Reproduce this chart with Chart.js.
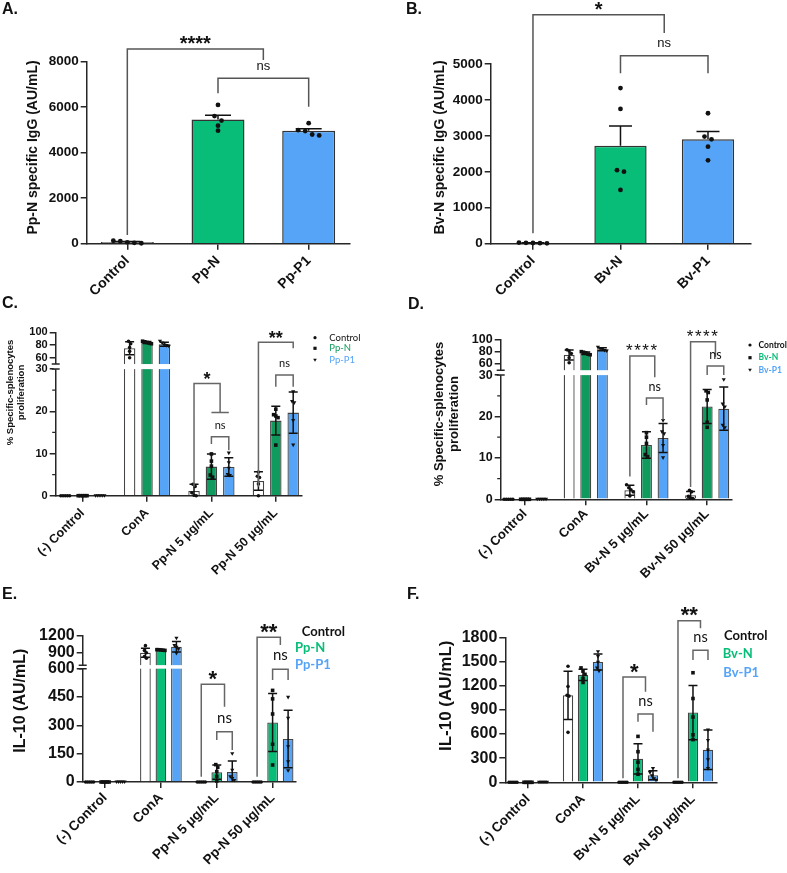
<!DOCTYPE html>
<html>
<head>
<meta charset="utf-8">
<title>IgG, splenocyte proliferation and IL-10</title>
<script src="https://cdn.jsdelivr.net/npm/chart.js@4.4.1/dist/chart.umd.min.js"></script>
<style>
  html, body { margin: 0; padding: 0; background: #fff; }
  body { position: relative; width: 787px; height: 873px; overflow: hidden; }
  canvas { position: absolute; }
</style>
</head>
<body>
<canvas id="panelA"></canvas>
<canvas id="panelB"></canvas>
<canvas id="panelC"></canvas>
<canvas id="panelD"></canvas>
<canvas id="panelE"></canvas>
<canvas id="panelF"></canvas>
<script>
const SANS = '"Liberation Sans", Arial, sans-serif';
const CALIBRI = 'Lato, "Liberation Sans", sans-serif';
const INK = "#111";
const AXIS = "#262626";
const GREEN = "#08bd78";
const GREEN_DARK = "#119a5e";
const BLUE = "#55a4f7";

// ================== DATA ==================
// A. Pp-N specific IgG (mean, SEM, individual mice)
const igPpCats = ["Control", "Pp-N", "Pp-P1"];
const igPpMean = [72, 5456, 4960];
const igPpSem = [20, 193, 95];
const igPpPoints = [
  [130, 110, 60, 40, 20],
  [6100, 5610, 5410, 5190, 4970],
  [5300, 4990, 4950, 4800, 4760],
];
const igPpTicks = [0, 2000, 4000, 6000, 8000];
const igPpSig = [
  { l: [0, 0], r: [1.5, 0], y: 8558, yl: 380, yr: 8075, text: "****" },
  { l: [1, 0], r: [2, 0], y: 7270, yl: 6611, yr: 6022, text: "ns" },
];

// B. Bv-N specific IgG
const igBvCats = ["Control", "Bv-N", "Bv-P1"];
const igBvMean = [20, 2725, 2907];
const igBvSem = [5, 553, 214];
const igBvPoints = [
  [30, 25, 20, 15, 10],
  [4330, 3750, 2045, 2005, 1495],
  [3630, 2980, 2905, 2700, 2320],
];
const igBvTicks = [0, 1000, 2000, 3000, 4000, 5000];
const igBvSig = [
  { l: [0, 0], r: [1.5, 0], y: 6370, yl: 290, yr: 5860, text: "*" },
  { l: [1, 0], r: [2, 0], y: 5228, yl: 4746, yr: 4746, text: "ns" },
];

// C. Splenocyte proliferation, Pp-N stimulation (mean, SD, points)
const prolifPpCats = ["(-) Control", "ConA", "Pp-N 5 μg/mL", "Pp-N 50 μg/mL"];
const prolifPpCtrlMean = [0, 74.8, 1.1, 3.5];
const prolifPpCtrlSd = [0, 10.2, 1.6, 2.2];
const prolifPpCtrlPts = [[0, 0, 0, 0, 0], [86, 82, 76, 70, 60], [2.7, 2.2, 0.7, 0.1, 0], [5.6, 4.6, 4.3, 2.8, 0]];
const prolifPpNMean = [0, 84, 6.9, 17.8];
const prolifPpNSd = [0, 1.6, 3.0, 3.4];
const prolifPpNPts = [[0, 0, 0, 0, 0], [86, 85, 84, 83, 82], [9.9, 8.2, 7.0, 4.9, 4.4], [20.5, 19.2, 18.9, 18.5, 12.0]];
const prolifPpP1Mean = [0, 81.2, 6.8, 19.7];
const prolifPpP1Sd = [0, 3.3, 2.2, 4.9];
const prolifPpP1Pts = [[0, 0, 0, 0, 0], [86, 83, 80, 79, 78], [10.1, 7.8, 6.5, 5.0, 4.8], [24.6, 22.3, 22.0, 17.8, 12.0]];
const prolifPpTicks = [0, 10, 20, 30, 60, 80, 100];
const prolifPpMinor = [5, 15, 25];
const prolifPpSig = [
  { l: [2, 0], r: [2, 1.5], y: 26.6, yl: 2.1, yr: 19.7, text: "*", tee: true },
  { l: [2, 1], r: [2, 2], y: 14.0, yl: 12.25, yr: 10.8, text: "ns" },
  { l: [3, 0], r: [3, 2], y: 84.2, yl: 2.1, yr: 74.8, text: "**" },
  { l: [3, 1], r: [3, 2], y: 28.6, yl: 25.8, yr: 25.8, text: "ns" },
];

// D. Splenocyte proliferation, Bv-N stimulation
const prolifBvCats = ["(-) Control", "ConA", "Bv-N 5 μg/mL", "Bv-N 50 μg/mL"];
const prolifBvCtrlMean = [0, 74.6, 2.2, 1.0];
const prolifBvCtrlSd = [0, 8.0, 1.2, 0.9];
const prolifBvCtrlPts = [[0, 0, 0, 0, 0], [83, 81, 77, 70, 62], [3.5, 2.8, 2.3, 1.8, 0.8], [2.2, 1.8, 0.7, 0.3, 0.2]];
const prolifBvNMean = [0, 77.4, 13.1, 22.4];
const prolifBvNSd = [0, 2.0, 3.2, 4.1];
const prolifBvNPts = [[0, 0, 0, 0, 0], [80, 79, 78, 76, 75], [16.1, 15.0, 13.5, 10.8, 10.3], [26.2, 25.8, 24.0, 18.6, 17.4]];
const prolifBvP1Mean = [0, 83.8, 14.8, 21.9];
const prolifBvP1Sd = [0, 2.4, 3.5, 5.2];
const prolifBvP1Pts = [[0, 0, 0, 0, 0], [87, 85, 84, 82, 81], [19.0, 16.3, 15.8, 13.0, 10.0], [28.9, 23.0, 22.3, 17.9, 17.3]];
const prolifBvTicks = [0, 10, 20, 30, 60, 80, 100];
const prolifBvMinor = [5, 15, 25];
const prolifBvSig = [
  { l: [2, 0], r: [2, 1.5], y: 72.9, yl: 5.5, yr: 29.5, text: "****" },
  { l: [2, 1], r: [2, 2], y: 24.5, yl: 22.8, yr: 19.2, text: "ns" },
  { l: [3, 0], r: [3, 1.5], y: 96.1, yl: 3.0, yr: 71.8, text: "****" },
  { l: [3, 1], r: [3, 2], y: 56.8, yl: 30, yr: 30, text: "ns" },
];

// E. IL-10, Pp-N stimulation
const il10PpCats = ["(-) Control", "ConA", "Pp-N 5 μg/mL", "Pp-N 50 μg/mL"];
const il10PpCtrlMean = [0, 896, 0, 0];
const il10PpCtrlSd = [0, 80, 0, 0];
const il10PpCtrlPts = [[0, 0, 0, 0, 0], [1020, 935, 895, 830, 800], [0, 0, 0, 0, 0], [0, 0, 0, 0, 0]];
const il10PpNMean = [0, 944, 52, 315];
const il10PpNSd = [0, 6, 38, 153];
const il10PpNPts = [[0, 0, 0, 0, 0], [950, 948, 945, 940, 937], [92, 78, 55, 30, 5], [485, 440, 360, 200, 90]];
const il10PpP1Mean = [0, 1001, 53, 228];
const il10PpP1Sd = [0, 90, 58, 152];
const il10PpP1Pts = [[0, 0, 0, 0, 0], [1150, 1020, 990, 960, 885], [150, 62, 28, 18, 8], [448, 337, 187, 107, 60]];
const il10PpTicks = [0, 150, 300, 450, 600, 900, 1200];
const il10PpSig = [
  { l: [2, 0], r: [2, 1.5], y: 517, yl: 28, yr: 399, text: "*" },
  { l: [2, 1], r: [2, 2], y: 266, yl: 222, yr: 169, text: "ns" },
  { l: [3, 0], r: [3, 1.5], y: 1165, yl: 28, yr: 1031, text: "**" },
  { l: [3, 1], r: [3, 2], y: 597, yl: 540, yr: 540, text: "ns" },
];

// F. IL-10, Bv-N stimulation
const il10BvCats = ["(-) Control", "ConA", "Bv-N 5 μg/mL", "Bv-N 50 μg/mL"];
const il10BvCtrlMean = [0, 1080, 0, 0];
const il10BvCtrlSd = [0, 300, 0, 0];
const il10BvCtrlPts = [[0, 0, 0, 0, 0], [1440, 1190, 1080, 1070, 620], [0, 0, 0, 0, 0], [0, 0, 0, 0, 0]];
const il10BvNMean = [0, 1334, 292, 866];
const il10BvNSd = [0, 70, 188, 337];
const il10BvNPts = [[0, 0, 0, 0, 0], [1420, 1380, 1340, 1290, 1240], [570, 380, 250, 160, 100], [1360, 1040, 810, 590, 530]];
const il10BvP1Mean = [0, 1494, 88, 404];
const il10BvP1Sd = [0, 100, 55, 246];
const il10BvP1Pts = [[0, 0, 0, 0, 0], [1620, 1560, 1490, 1420, 1380], [170, 120, 80, 45, 25], [650, 520, 400, 280, 170]];
const il10BvTicks = [0, 300, 600, 900, 1200, 1500, 1800];
const il10BvSig = [
  { l: [2, 0], r: [2, 1.5], y: 1307, yl: 50, yr: 1125, text: "*" },
  { l: [2, 1], r: [2, 2], y: 848, yl: 752, yr: 628, text: "ns" },
  { l: [3, 0], r: [3, 1.5], y: 2006, yl: 50, yr: 1912, text: "**" },
  { l: [3, 1], r: [3, 2], y: 1639, yl: 1518, yr: 1518, text: "ns" },
];

// ================== HELPERS ==================
// broken axis: [0, lowMax] at full scale, small gap, [highMin, ...] compressed by k
function brokenAxis(lowMax, highMin, gap, k) {
  const fn = (v) => {
    if (v <= lowMax) return v;
    if (v >= highMin) return lowMax + gap + (v - highMin) * k;
    return lowMax + (gap * (v - lowMax)) / (highMin - lowMax);
  };
  fn.brk = { lowMax, gap };
  return fn;
}
const identity = (v) => v;

function barX(chart, p) {
  const [g, s] = p;
  if (chart.data.datasets.length === 1) {
    const d = chart.getDatasetMeta(0).data;
    const i = Math.floor(g), t = g - i;
    return t ? d[i].x + (d[i + 1].x - d[i].x) * t : d[i].x;
  }
  const i = Math.floor(s), t = s - i;
  const a = chart.getDatasetMeta(i).data[g].x;
  return t ? a + (chart.getDatasetMeta(i + 1).data[g].x - a) * t : a;
}

// spread overlapping dots sideways (rough beeswarm)
function swarm(ys, r, gap) {
  const order = ys.map((y, i) => i).sort((a, b) => ys[a] - ys[b]);
  const dx = ys.map(() => 0);
  let group = [order[0]];
  const flush = () => group.forEach((k, j) => (dx[k] = (j - (group.length - 1) / 2) * gap));
  for (let j = 1; j < order.length; j++) {
    if (ys[order[j]] - ys[group[group.length - 1]] < r * 2) group.push(order[j]);
    else { flush(); group = [order[j]]; }
  }
  flush();
  return dx;
}

function marker(ctx, shape, x, y, r) {
  ctx.beginPath();
  if (shape === "circle") ctx.arc(x, y, r, 0, Math.PI * 2);
  else if (shape === "square") ctx.rect(x - r, y - r, 2 * r, 2 * r);
  else {
    ctx.moveTo(x - r * 1.15, y - r * 0.85);
    ctx.lineTo(x + r * 1.15, y - r * 0.85);
    ctx.lineTo(x, y + r * 1.15);
    ctx.closePath();
  }
  ctx.fill();
}

function panelPlugin(o, f) {
  const bx = o.box.x, by = o.box.y;
  return {
    id: "panel_" + o.id,
    afterDatasetsDraw(chart) {
      const ctx = chart.ctx, ys = chart.scales.y, area = chart.chartArea;
      const Y = (v) => ys.getPixelForValue(f(v));
      ctx.save();

      // axis break
      if (f.brk) {
        const y0 = ys.getPixelForValue(f.brk.lowMax);
        const y1 = ys.getPixelForValue(f.brk.lowMax + f.brk.gap);
        ctx.fillStyle = "#fff";
        ctx.fillRect(area.left - 2, y1, area.right - area.left + 2, y0 - y1);
        ctx.strokeStyle = AXIS;
        ctx.lineWidth = 1.5;
        ctx.beginPath();
        ctx.moveTo(area.left - 4, y0); ctx.lineTo(area.left + 4, y0);
        ctx.moveTo(area.left - 4, y1); ctx.lineTo(area.left + 4, y1);
        ctx.stroke();
      }

      // minor ticks
      if (o.minor) {
        ctx.strokeStyle = AXIS;
        ctx.lineWidth = 1.2;
        ctx.beginPath();
        o.minor.forEach((v) => { ctx.moveTo(area.left - 3.5, Y(v)); ctx.lineTo(area.left, Y(v)); });
        ctx.stroke();
      }

      // error bars
      ctx.strokeStyle = INK;
      ctx.lineWidth = 1.5;
      o.series.forEach((s, si) => {
        const meta = chart.getDatasetMeta(si);
        s.mean.forEach((m, g) => {
          const e = s.err[g];
          if (!e) return;
          const x = meta.data[g].x, w = o.capW;
          const top = Y(m + e);
          const lo = o.upOnly ? m : Math.max(m - e, 0);
          const bot = Y(lo);
          ctx.beginPath();
          ctx.moveTo(x, bot); ctx.lineTo(x, top);
          ctx.moveTo(x - w, top); ctx.lineTo(x + w, top);
          if (!o.upOnly && m - e > 0) { ctx.moveTo(x - w, bot); ctx.lineTo(x + w, bot); }
          ctx.stroke();
        });
      });

      // individual animals
      ctx.fillStyle = INK;
      o.series.forEach((s, si) => {
        const meta = chart.getDatasetMeta(si);
        s.pts.forEach((arr, g) => {
          const x = meta.data[g].x;
          const py = arr.map(Y);
          const dx = swarm(py, o.ptR, o.ptGap);
          py.forEach((y, k) => marker(ctx, s.shape, x + dx[k], y, o.ptR));
        });
      });

      // significance brackets
      ctx.strokeStyle = o.sigColor;
      ctx.lineWidth = 1.5;
      o.sig.forEach((b) => {
        const xl = barX(chart, b.l), xr = barX(chart, b.r), yb = Y(b.y);
        ctx.beginPath();
        ctx.moveTo(xl, Y(b.yl)); ctx.lineTo(xl, yb); ctx.lineTo(xr, yb); ctx.lineTo(xr, Y(b.yr));
        if (b.tee) {
          ctx.moveTo(barX(chart, [b.r[0], 1]), Y(b.yr));
          ctx.lineTo(barX(chart, [b.r[0], 2]), Y(b.yr));
        }
        ctx.stroke();

        const cx = (xl + xr) / 2;
        ctx.fillStyle = INK;
        ctx.textAlign = "center";
        ctx.textBaseline = "alphabetic";
        if (b.text === "ns") {
          ctx.font = o.ns.font;
          ctx.fillText("ns", cx, yb - o.ns.dy + o.ns.size * 0.26);
        } else {
          ctx.font = o.star.font;
          ctx.letterSpacing = o.star.spacing || "0px";
          ctx.fillText(b.text, cx, yb - o.star.dy + o.star.size * 0.58);
          ctx.letterSpacing = "0px";
        }
      });
      ctx.restore();
    },
    afterDraw(chart) {
      const ctx = chart.ctx;
      ctx.save();
      ctx.fillStyle = INK;

      // panel letter
      ctx.font = "bold 16px " + SANS;
      ctx.textAlign = "left";
      ctx.textBaseline = "middle";
      ctx.fillText(o.letter.text, o.letter.x - bx, o.letter.y - by);

      // y-axis title
      const t = o.title;
      ctx.save();
      ctx.translate(t.x - bx, t.y - by);
      ctx.rotate(-Math.PI / 2);
      ctx.font = t.font;
      ctx.textAlign = "center";
      ctx.textBaseline = "middle";
      t.lines.forEach((line, i) => ctx.fillText(line, 0, (i - (t.lines.length - 1) / 2) * (t.gap || 0)));
      ctx.restore();

      // legend
      if (o.legend) {
        const L = o.legend;
        ctx.font = L.font;
        ctx.textAlign = "left";
        ctx.textBaseline = "middle";
        L.items.forEach((it) => {
          if (it.shape) {
            ctx.fillStyle = INK;
            marker(ctx, it.shape, L.markerX - bx, it.y - by, L.markerR);
          }
          ctx.fillStyle = it.color;
          ctx.fillText(it.text, it.x - bx, it.y - by);
        });
      }
      ctx.restore();
    },
  };
}

function makePanel(o) {
  const cv = document.getElementById(o.id);
  const b = o.box, a = o.area;
  cv.width = b.w;
  cv.height = b.h;
  cv.style.left = b.x + "px";
  cv.style.top = b.y + "px";
  const f = o.f || identity;

  const datasets = o.series.map((s) => ({
    data: s.mean.map((m, g) => ({ x: g, y: f(m) })),
    backgroundColor: s.fill,
    borderColor: o.barEdge,
    borderWidth: o.barEdgeW,
    categoryPercentage: o.catPct,
    barPercentage: o.barPct,
  }));

  const gridOpts = { offset: false, drawOnChartArea: false, drawTicks: true, tickLength: 6, color: AXIS, lineWidth: 1.5 };

  return new Chart(cv, {
    type: "bar",
    data: { datasets },
    options: {
      responsive: false,
      animation: false,
      events: [],
      layout: { padding: { left: 0, top: a.t - b.y, right: b.x + b.w - a.r, bottom: 0 } },
      plugins: { legend: { display: false }, tooltip: { enabled: false } },
      scales: {
        x: {
          type: "linear",
          offset: false,
          bounds: "data",
          min: o.xMin,
          max: o.xMax,
          afterBuildTicks: (s) => { s.ticks = o.cats.map((c, i) => ({ value: i })); },
          afterFit: (s) => { s.height = b.y + b.h - a.b; },
          grid: gridOpts,
          border: { display: true, color: AXIS, width: 1.5 },
          ticks: {
            autoSkip: false,
            minRotation: 45,
            maxRotation: 45,
            padding: o.xPad,
            color: INK,
            font: { family: SANS, size: o.xFont, weight: "bold" },
            callback: (v, i) => o.cats[i],
          },
        },
        y: {
          type: "linear",
          bounds: "data",
          min: 0,
          max: f(o.yTicks[o.yTicks.length - 1]),
          afterBuildTicks: (s) => { s.ticks = o.yTicks.map((v) => ({ value: f(v) })); },
          afterFit: (s) => { s.width = a.l - b.x; },
          grid: gridOpts,
          border: { display: true, color: AXIS, width: 1.5 },
          ticks: {
            autoSkip: false,
            padding: 2,
            color: INK,
            font: { family: SANS, size: o.yFont, weight: "bold" },
            callback: (v, i) => String(o.yTicks[i]),
          },
        },
      },
    },
    plugins: [panelPlugin(o, f)],
  });
}

// ================== PANELS ==================
const starBig = (size, dy) => ({ font: "bold " + size + "px " + SANS, size, dy });

makePanel({
  id: "panelA",
  box: { x: 0, y: 0, w: 393, h: 300 },
  area: { l: 86.7, t: 61.7, r: 349.3, b: 243.7 },
  xMin: -0.448, xMax: 2.448, cats: igPpCats, yTicks: igPpTicks,
  series: [{ mean: igPpMean, err: igPpSem, pts: igPpPoints, fill: ["#9a9a9a", GREEN, BLUE], shape: "circle" }],
  catPct: 0.8, barPct: 0.73, barEdge: "#333", barEdgeW: 1.5,
  upOnly: true, capW: 13, ptR: 2.4, ptGap: 7,
  sig: igPpSig, sigColor: "#555",
  star: starBig(20, 11), ns: { font: "13px " + SANS, size: 13, dy: 11.6 },
  xFont: 14, yFont: 13.5, xPad: 3,
  title: { lines: ["Pp-N specific IgG (AU/mL)"], x: 33.3, y: 147.5, font: "bold 14px " + SANS },
  letter: { text: "A.", x: 2, y: 10 },
});

makePanel({
  id: "panelB",
  box: { x: 393, y: 0, w: 394, h: 300 },
  area: { l: 490.7, t: 64, r: 750.7, b: 243.7 },
  xMin: -0.483, xMax: 2.488, cats: igBvCats, yTicks: igBvTicks,
  series: [{ mean: igBvMean, err: igBvSem, pts: igBvPoints, fill: ["#9a9a9a", GREEN, BLUE], shape: "circle" }],
  catPct: 0.8, barPct: 0.747, barEdge: "#333", barEdgeW: 1.5,
  upOnly: true, capW: 11.5, ptR: 2.4, ptGap: 7,
  sig: igBvSig, sigColor: "#555",
  star: starBig(20, 10), ns: { font: "13px " + SANS, size: 13, dy: 12 },
  xFont: 14, yFont: 13.5, xPad: 3,
  title: { lines: ["Bv-N specific IgG (AU/mL)"], x: 439.7, y: 147.5, font: "bold 14px " + SANS },
  letter: { text: "B.", x: 406, y: 10 },
});

makePanel({
  id: "panelC",
  box: { x: 0, y: 290, w: 393, h: 295 },
  area: { l: 55.7, t: 332.3, r: 301.7, b: 495.7 },
  f: brokenAxis(30, 50, 1.2, 0.1505),
  xMin: -0.418, xMax: 3.402, cats: prolifPpCats, yTicks: prolifPpTicks, minor: prolifPpMinor,
  series: [
    { mean: prolifPpCtrlMean, err: prolifPpCtrlSd, pts: prolifPpCtrlPts, fill: "#fff", shape: "circle" },
    { mean: prolifPpNMean, err: prolifPpNSd, pts: prolifPpNPts, fill: GREEN_DARK, shape: "square" },
    { mean: prolifPpP1Mean, err: prolifPpP1Sd, pts: prolifPpP1Pts, fill: BLUE, shape: "triangle" },
  ],
  catPct: 0.81, barPct: 0.66, barEdge: "#444", barEdgeW: 1.3,
  capW: 4.5, ptR: 1.8, ptGap: 2.2,
  sig: prolifPpSig, sigColor: "#666",
  star: starBig(18, 8.8), ns: { font: "11px " + CALIBRI, size: 11, dy: 10.5 },
  xFont: 12.5, yFont: 11, xPad: 4,
  title: { lines: ["% Specific-splenocytes", "proliferation"], x: 15.9, y: 392.5, gap: 11.7, font: "bold 9.5px " + SANS },
  letter: { text: "C.", x: 2, y: 303.3 },
  legend: {
    font: "9.5px " + CALIBRI, markerX: 315, markerR: 1.6,
    items: [
      { text: "Control", color: INK, shape: "circle", x: 329.3, y: 337.7 },
      { text: "Pp-N", color: GREEN_DARK, shape: "square", x: 329.3, y: 348.3 },
      { text: "Pp-P1", color: BLUE, shape: "triangle", x: 329.3, y: 360 },
    ],
  },
});

makePanel({
  id: "panelD",
  box: { x: 393, y: 290, w: 394, h: 295 },
  area: { l: 500.7, t: 339.3, r: 732, b: 499.3 },
  f: brokenAxis(30, 50, 1.19, 0.1492),
  xMin: -0.401, xMax: 3.409, cats: prolifBvCats, yTicks: prolifBvTicks, minor: prolifBvMinor,
  series: [
    { mean: prolifBvCtrlMean, err: prolifBvCtrlSd, pts: prolifBvCtrlPts, fill: "#fff", shape: "circle" },
    { mean: prolifBvNMean, err: prolifBvNSd, pts: prolifBvNPts, fill: GREEN_DARK, shape: "square" },
    { mean: prolifBvP1Mean, err: prolifBvP1Sd, pts: prolifBvP1Pts, fill: BLUE, shape: "triangle" },
  ],
  catPct: 0.82, barPct: 0.66, barEdge: "#444", barEdgeW: 1.3,
  capW: 4.5, ptR: 1.8, ptGap: 2.2,
  sig: prolifBvSig, sigColor: "#666",
  star: { font: "17px " + SANS, size: 17, dy: 9.7, spacing: "1.5px" }, ns: { font: "12.5px " + CALIBRI, size: 12.5, dy: 10 },
  xFont: 13, yFont: 12.5, xPad: 1,
  title: { lines: ["% Specific-splenocytes", "proliferation"], x: 447.2, y: 414, gap: 15, font: "bold 13px " + SANS },
  letter: { text: "D.", x: 408, y: 305 },
  legend: {
    font: "bold 8.5px " + CALIBRI, markerX: 750, markerR: 1.6,
    items: [
      { text: "Control", color: INK, shape: "circle", x: 758.5, y: 345 },
      { text: "Bv-N", color: GREEN, shape: "square", x: 758.5, y: 357.7 },
      { text: "Bv-P1", color: BLUE, shape: "triangle", x: 758.5, y: 370 },
    ],
  },
});

makePanel({
  id: "panelE",
  box: { x: 0, y: 580, w: 393, h: 293 },
  area: { l: 82.7, t: 635.3, r: 296, b: 782 },
  f: brokenAxis(600, 680, 18.7, 0.3037),
  xMin: -0.401, xMax: 3.419, cats: il10PpCats, yTicks: il10PpTicks,
  series: [
    { mean: il10PpCtrlMean, err: il10PpCtrlSd, pts: il10PpCtrlPts, fill: "#fff", shape: "circle" },
    { mean: il10PpNMean, err: il10PpNSd, pts: il10PpNPts, fill: GREEN, shape: "square" },
    { mean: il10PpP1Mean, err: il10PpP1Sd, pts: il10PpP1Pts, fill: BLUE, shape: "triangle" },
  ],
  catPct: 0.833, barPct: 0.69, barEdge: "#444", barEdgeW: 1.3,
  capW: 4.5, ptR: 1.8, ptGap: 2.0,
  sig: il10PpSig, sigColor: "#666",
  star: starBig(22, 11), ns: { font: "15px " + CALIBRI, size: 15, dy: 13 },
  xFont: 13.5, yFont: 16, xPad: 2,
  title: { lines: ["IL-10 (AU/mL)"], x: 20.7, y: 700.7, font: "bold 16px " + SANS },
  letter: { text: "E.", x: 2, y: 595 },
  legend: {
    font: "bold 13px " + CALIBRI,
    items: [
      { text: "Control", color: INK, x: 301.7, y: 631.7 },
      { text: "Pp-N", color: GREEN, x: 295, y: 647.7 },
      { text: "Pp-P1", color: BLUE, x: 295, y: 665 },
    ],
  },
});

makePanel({
  id: "panelF",
  box: { x: 393, y: 580, w: 394, h: 293 },
  area: { l: 505.3, t: 637.3, r: 716.3, b: 782.3 },
  xMin: -0.413, xMax: 3.424, cats: il10BvCats, yTicks: il10BvTicks,
  series: [
    { mean: il10BvCtrlMean, err: il10BvCtrlSd, pts: il10BvCtrlPts, fill: "#fff", shape: "circle" },
    { mean: il10BvNMean, err: il10BvNSd, pts: il10BvNPts, fill: GREEN, shape: "square" },
    { mean: il10BvP1Mean, err: il10BvP1Sd, pts: il10BvP1Pts, fill: BLUE, shape: "triangle" },
  ],
  catPct: 0.818, barPct: 0.69, barEdge: "#444", barEdgeW: 1.3,
  capW: 4.5, ptR: 1.8, ptGap: 2.0,
  sig: il10BvSig, sigColor: "#666",
  star: starBig(22, 11), ns: { font: "14.5px " + CALIBRI, size: 14.5, dy: 12 },
  xFont: 13.5, yFont: 16, xPad: 3,
  title: { lines: ["IL-10 (AU/mL)"], x: 446.3, y: 695.8, font: "bold 17px " + SANS },
  letter: { text: "F.", x: 407, y: 595 },
  legend: {
    font: "bold 13px " + CALIBRI,
    items: [
      { text: "Control", color: INK, x: 724, y: 636 },
      { text: "Bv-N", color: GREEN, x: 722.7, y: 654 },
      { text: "Bv-P1", color: BLUE, x: 723.3, y: 672.7 },
    ],
  },
});
</script>
</body>
</html>
